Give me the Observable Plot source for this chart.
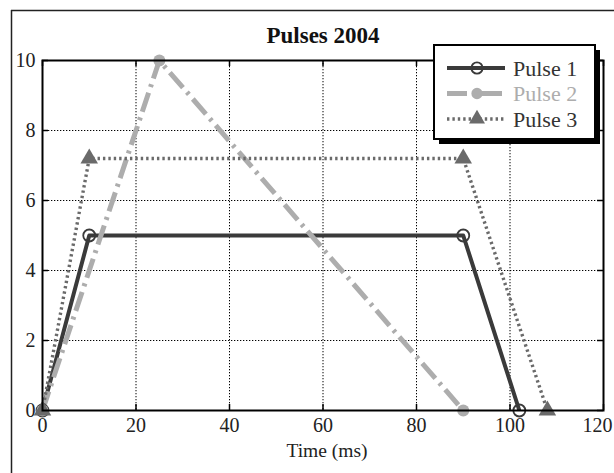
<!DOCTYPE html>
<html><head><meta charset="utf-8">
<script src="https://cdn.jsdelivr.net/npm/d3@7"></script>
<script src="https://cdn.jsdelivr.net/npm/@observablehq/plot@0.6"></script>
<style>html,body{margin:0;background:#fff;overflow:hidden} svg{display:block}</style>
</head><body><div id="chart"></div>
<script>
const title = "Pulses 2004";
const xLabel = "Time (ms)";
const seriesNames = ["Pulse 1", "Pulse 2", "Pulse 3"];
const pulse1X = [0, 10, 90, 102];
const pulse1Y = [0, 5, 5, 0];
const pulse2X = [0, 25, 90];
const pulse2Y = [0, 10, 0];
const pulse3X = [0, 10, 90, 108];
const pulse3Y = [0, 7.2, 7.2, 0];
const xTicks = [0, 20, 40, 60, 80, 100, 120];
const yTicks = [0, 2, 4, 6, 8, 10];

// styles
const colors = ["#3a3a3a", "#adadad", "#6a6a6a"];
const widths = [4, 5, 3.4];
const dashes = [null, "20,6,3,6", "2.4,3"];
const symbols = ["circle", "circle", "triangle"];
const fills = ["none", colors[1], colors[2]];
const serif = "'Liberation Serif', 'Times New Roman', serif";

const toRows = (xs, ys) => xs.map((x, i) => ({x, y: ys[i]}));
const series = [toRows(pulse1X, pulse1Y), toRows(pulse2X, pulse2Y), toRows(pulse3X, pulse3Y)];

const xDom = [xTicks[0], xTicks[xTicks.length - 1]];
const yDom = [yTicks[0], yTicks[yTicks.length - 1]];
const innerX = xTicks.slice(1, -1);
const innerY = yTicks.slice(1, -1);
const tx = (xDom[1] - xDom[0]) * 6 / 561;
const ty = (yDom[1] - yDom[0]) * 6 / 350;

const marks = [
  Plot.gridX(innerX, {stroke: "black", strokeOpacity: 1, strokeWidth: 1, strokeDasharray: "1.3,1.7"}),
  Plot.gridY(innerY, {stroke: "black", strokeOpacity: 1, strokeWidth: 1, strokeDasharray: "1.3,1.7"}),
  Plot.ruleX(xTicks, {y1: yDom[0], y2: yDom[0] + ty, stroke: "black", strokeWidth: 1.5}),
  Plot.ruleX(xTicks, {y1: yDom[1], y2: yDom[1] - ty, stroke: "black", strokeWidth: 1.5}),
  Plot.ruleY(yTicks, {x1: xDom[0], x2: xDom[0] + tx, stroke: "black", strokeWidth: 1.5}),
  Plot.ruleY(yTicks, {x1: xDom[1], x2: xDom[1] - tx, stroke: "black", strokeWidth: 1.5}),
];
series.forEach((rows, i) => {
  marks.push(Plot.line(rows, {x: "x", y: "y", stroke: colors[i], strokeWidth: widths[i], strokeDasharray: dashes[i], strokeLinecap: "butt"}));
});
series.forEach((rows, i) => {
  marks.push(Plot.dot(rows, {x: "x", y: "y", symbol: symbols[i], r: i === 2 ? 6.5 : 6, stroke: i === 0 ? colors[0] : "none", strokeWidth: 1.8, fill: fills[i]}));
});
marks.push(
  Plot.frame({stroke: "black", strokeWidth: 2}),
  Plot.axisX(xTicks.slice(0, -1), {anchor: "bottom", tickSize: 0, tickPadding: 7, fontSize: 20, fontFamily: serif, fill: "#222", label: null}),
  Plot.axisX(xTicks.slice(-1), {anchor: "bottom", tickSize: 0, tickPadding: 7, dx: -6, fontSize: 20, fontFamily: serif, fill: "#222", label: null}),
  Plot.axisY(yTicks, {anchor: "left", tickSize: 0, tickPadding: 7, fontSize: 20, fontFamily: serif, fill: "#222", label: null}),
  Plot.text([title], {frameAnchor: "top", dy: -34, fontSize: 23, fontWeight: "bold", fontFamily: serif, fill: "#111", text: d => d}),
  Plot.text([xLabel], {frameAnchor: "bottom", dy: 46, dx: 4, fontSize: 19.5, fontFamily: serif, fill: "#222", text: d => d})
);

const chart = Plot.plot({
  width: 614, height: 473,
  marginLeft: 42, marginRight: 11, marginTop: 60, marginBottom: 63,
  x: {domain: xDom}, y: {domain: yDom},
  style: {fontFamily: serif, background: "white", overflow: "hidden"},
  marks
});
document.getElementById("chart").appendChild(chart);

// outer figure border and legend
const svg = d3.select(chart);
svg.append("line").attr("x1", 11.5).attr("x2", 11.5).attr("y1", 10).attr("y2", 473)
  .attr("stroke", "#222").attr("stroke-width", 1.5);
svg.append("line").attr("x1", 11).attr("x2", 614).attr("y1", 10.5).attr("y2", 10.5)
  .attr("stroke", "#222").attr("stroke-width", 1.5);

const lg = svg.append("g").attr("transform", "translate(434,45)");
lg.append("rect").attr("x", 5).attr("y", 5).attr("width", 161).attr("height", 94).attr("fill", "black");
lg.append("rect").attr("x", 0).attr("y", 0).attr("width", 161).attr("height", 94).attr("fill", "white").attr("stroke", "black").attr("stroke-width", 2);
seriesNames.forEach((name, i) => {
  const y = 23 + i * 25.5;
  lg.append("line").attr("x1", 13).attr("x2", 71).attr("y1", y).attr("y2", y)
    .attr("stroke", colors[i]).attr("stroke-width", widths[i]).attr("stroke-dasharray", dashes[i]);
  const sym = d3.symbol(i === 2 ? d3.symbolTriangle : d3.symbolCircle, i === 2 ? 110 : 100)();
  lg.append("path").attr("d", sym).attr("transform", `translate(43,${y})`)
    .attr("fill", fills[i]).attr("stroke", i === 0 ? colors[0] : "none").attr("stroke-width", 1.8);
  lg.append("text").attr("x", 79).attr("y", y).attr("dy", "0.35em")
    .attr("text-anchor", "start")
    .attr("font-family", serif).attr("font-size", 22)
    .attr("fill", i === 1 ? colors[1] : "#333").text(name);
});
</script></body></html>
